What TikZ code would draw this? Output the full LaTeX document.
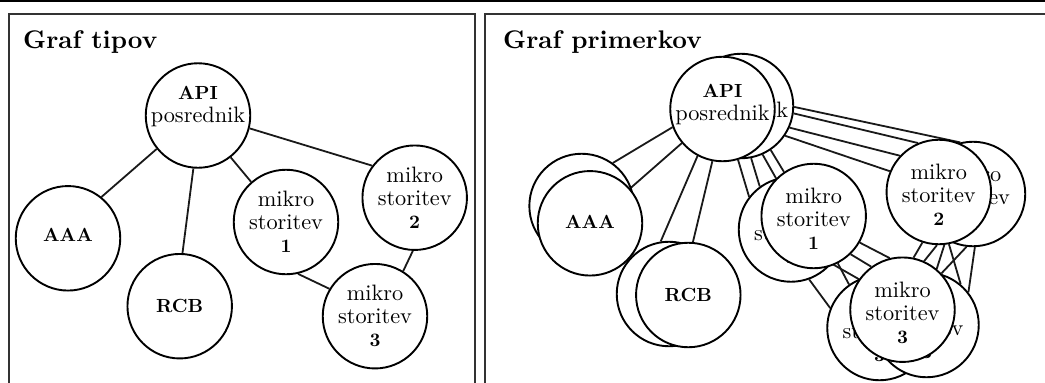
\documentclass[tikz,border=0pt]{standalone}
\usepackage{fontspec}
\setmainfont{lmroman10-regular.otf}[BoldFont=lmroman10-bold.otf]
\usetikzlibrary{backgrounds}

\tikzset{
  rulebar/.style={line width=2.2pt, draw=black},
  panel/.style={line width=2pt, draw=black!80},
  inst/.style={circle, draw=black, fill=white, line width=1.9pt,
               minimum size=104.5pt, inner sep=0pt},
  link/.style={line width=1.8pt, draw=black!90},
  lbl/.style={font=\fontsize{22.3}{23}\selectfont, align=center, inner sep=0pt},
  heading/.style={font=\fontsize{25.5}{28}\selectfont\bfseries,
                  anchor=base west, inner sep=0pt},
}
\newcommand\capsb[1]{{\fontsize{19}{23}\selectfont\bfseries #1}}

\begin{document}
\begin{tikzpicture}[x=1pt, y=-1pt]
\useasboundingbox (0,0) rectangle (1045,383);

% rule and the two panels
\draw[rulebar] (0,1.3) -- (1045,1.3);
\draw[panel] (9,392) -- (9,14) -- (475,14) -- (475,392);
\draw[panel] (485,392) -- (485,14) -- (1052,14);

\node[heading] (h-types) at (23,48.3) {Graf tipov};
\node[heading] (h-inst) at (503,48.3) {Graf primerkov};

% ---------------- type graph ----------------
\node[inst] (tapi) at (198,115.5) {};
\node[lbl] (tapi-l) at ([yshift=8.75pt]tapi.center) {\capsb{API}\\posrednik};
\node[inst] (taaa) at (68,238.3) {};
\node[lbl] (taaa-l) at ([yshift=3.8pt]taaa.center) {\capsb{AAA}};
\node[inst] (trcb) at (179.7,306.2) {};
\node[lbl] (trcb-l) at ([yshift=0.7pt]trcb.center) {\capsb{RCB}};
\node[inst] (tm1) at (286,222) {};
\node[lbl] (tm1-l) at (tm1.center) {mikro\\storitev\\\capsb{1}};
\node[inst] (tm2) at (414.7,197.7) {};
\node[lbl] (tm2-l) at (tm2.center) {mikro\\storitev\\\capsb{2}};
\node[inst] (tm3) at (375,316.2) {};
\node[lbl] (tm3-l) at (tm3.center) {mikro\\storitev\\\capsb{3}};

\begin{scope}[on background layer]
  \draw[link] (tapi.219) -- (taaa.51);
  \draw[link] (tapi.265) -- (trcb.87);
  \draw[link] (tapi.308) -- (tm1.131);
  \draw[link] (tapi.346) -- (tm2.143);
  \draw[link] (tm1.283) -- (tm3.149);
  \draw[link] (tm2.268) -- (tm3.58);
\end{scope}

% ---------------- instance graph ----------------
\node[inst] (pb) at (741,106) {};
\node[lbl] (pb-l) at ([yshift=4.25pt]pb.center) {\capsb{API}\\posrednik};
\node[inst] (pf) at (722.5,109) {};
\node[lbl] (pf-l) at ([yshift=4.25pt]pf.center) {\capsb{API}\\posrednik};

\node[inst] (ab) at (581.6,206) {};
\node[lbl] (ab-l) at ([yshift=1pt]ab.center) {\capsb{AAA}};
\node[inst] (af) at (590,223.3) {};
\node[lbl] (af-l) at ([yshift=1pt]af.center) {\capsb{AAA}};

\node[inst] (rb) at (669,294) {};
\node[lbl] (rb-l) at (rb.center) {\capsb{RCB}};
\node[inst] (rf) at (688.3,295) {};
\node[lbl] (rf-l) at (rf.center) {\capsb{RCB}};

\node[inst] (m1b) at (791,229.5) {};
\node[lbl] (m1b-l) at ([yshift=-3pt]m1b.center) {mikro\\storitev\\\capsb{1}};
\node[inst] (m1f) at (813.7,216) {};
\node[lbl] (m1f-l) at ([yshift=-3pt]m1f.center) {mikro\\storitev\\\capsb{1}};

\node[inst] (m2b) at (973,194) {};
\node[lbl] (m2b-l) at ([yshift=-3pt]m2b.center) {mikro\\storitev\\\capsb{2}};
\node[inst] (m2f) at (938.8,192) {};
\node[lbl] (m2f-l) at ([yshift=-3pt]m2f.center) {mikro\\storitev\\\capsb{2}};

\node[inst] (m3l) at (879.5,328) {};
\node[lbl] (m3l-l) at ([yshift=-3pt]m3l.center) {mikro\\storitev\\\capsb{3}};
\node[inst] (m3r) at (926.5,325) {};
\node[lbl] (m3r-l) at ([yshift=-3pt]m3r.center) {mikro\\storitev\\\capsb{3}};
\node[inst] (m3f) at (902.5,309.7) {};
\node[lbl] (m3f-l) at ([yshift=-3pt]m3f.center) {mikro\\storitev\\\capsb{3}};

\begin{scope}[on background layer]
  % API gateway to AAA and RCB
  \draw[link] (pf.200) -- (ab.54);
  \draw[link] (pf.220) -- (af.41);
  \draw[link] (pf.242) -- (rb.99);
  \draw[link] (pf.259) -- (rf.85);
  % API gateway to microservice 1
  \draw[link] (pf.287) -- (m1b.142);
  \draw[link] (pb.281) -- (m1b.126);
  \draw[link] (pb.294) -- (m1f.135);
  \draw[link] (pb.304) -- (m1f.124);
  % API gateway to microservice 2
  \draw[link] (pb.359) -- (m2b.104);
  \draw[link] (pb.352) -- (m2f.113);
  \draw[link] (pb.336) -- (m2f.137);
  \draw[link] (pb.326) -- (m2f.157);
  % microservice 1 to microservice 3
  \draw[link] (m1f.330) -- (m3f.104);
  \draw[link] (m1f.314) -- (m3f.126);
  \draw[link] (m1f.297) -- (m3l.125);
  \draw[link] (m1b.320) -- (m3f.145);
  \draw[link] (m1b.290) -- (m3l.158);
  % microservice 2 to microservice 3
  \draw[link] (m2f.252) -- (m3f.78);
  \draw[link] (m2f.268) -- (m3f.66);
  \draw[link] (m2f.276) -- (m3f.50);
  \draw[link] (m2b.263) -- (m3f.43);
  \draw[link] (m2f.281) -- (m3r.50);
  \draw[link] (m2b.272) -- (m3r.38);
\end{scope}
\end{tikzpicture}
\end{document}
